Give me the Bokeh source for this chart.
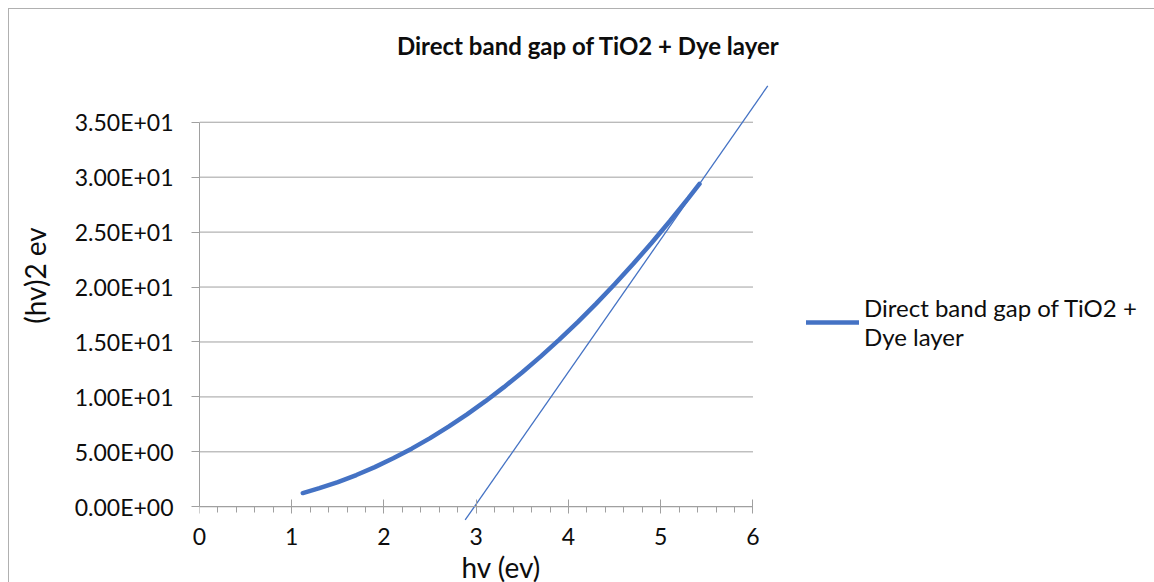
from bokeh.embed import file_html
from bokeh.models import FixedTicker, Label, Legend, LegendItem, LinearAxis, Title
from bokeh.plotting import figure
from bokeh.resources import INLINE

# (hv)^2 against photon energy hv for the TiO2 + dye layer
hv = [1.12, 1.3, 1.5, 1.7, 1.9, 2.1, 2.3, 2.5, 2.7, 2.9, 3.1, 3.3, 3.5,
      3.7, 3.9, 4.1, 4.3, 4.5, 4.7, 4.9, 5.1, 5.3, 5.42]
hv_sq = [1.25, 1.69, 2.25, 2.89, 3.61, 4.41, 5.29, 6.25, 7.29, 8.41, 9.61,
         10.89, 12.25, 13.69, 15.21, 16.81, 18.49, 20.25, 22.09, 24.01,
         26.01, 28.09, 29.38]

# straight-line extrapolation of the linear part down to the energy axis
tangent_hv = [2.88, 6.16]
tangent_sq = [-1.2, 38.3]

x_ticks = [0, 1, 2, 3, 4, 5, 6]
y_ticks = [0, 5, 10, 15, 20, 25, 30, 35]
y_tick_labels = ["0.00E+00", "5.00E+00", "1.00E+01", "1.50E+01",
                 "2.00E+01", "2.50E+01", "3.00E+01", "3.50E+01"]

chart_title = "Direct band gap of TiO2 + Dye layer"
series_name = "Direct band gap of TiO2 +\nDye layer"
x_title = "hv (ev)"
y_title = "(hv)2 ev"

FONT = "Lato"
BLUE = "#4472C4"
AXIS_GREY = "#a0a0a0"
TEXT = "#0d0d0d"
TICK_SIZE = "23px"
NAME_SIZE = "28px"

x_minor = [i / 5 for i in range(x_ticks[0] * 5, x_ticks[-1] * 5 + 1) if i % 5]

# the frame reaches past the plot box so the extrapolated line, the title
# and the legend sit inside it; the visible box is bounded by the axes
p = figure(
    width=1146, height=574,
    x_range=(0, 10.32), y_range=(-1.34, 43.44),
    output_backend="svg", toolbar_location=None,
    min_border_left=190, min_border_right=4,
    min_border_top=20, min_border_bottom=61,
    margin=(8, 0, 0, 8),
)
p.styles = {"border-top": "1px solid #b0b0b0", "border-left": "1px solid #b0b0b0"}
p.outline_line_color = None
p.background_fill_color = "white"
p.border_fill_color = "white"
p.xgrid.visible = False
p.ygrid.visible = False

# horizontal gridlines across the plotted energy span
p.segment(x0=x_ticks[0], x1=x_ticks[-1], y0=y_ticks, y1=y_ticks,
          line_color=AXIS_GREY, line_width=1, level="underlay")

# tick labels of the energy axis, below the frame
xa = p.xaxis[0]
xa.ticker = FixedTicker(ticks=x_ticks)
xa.axis_line_color = None
xa.major_tick_line_color = None
xa.minor_tick_line_color = None
xa.major_tick_in = 0
xa.major_tick_out = 0
xa.major_label_standoff = 6
xa.major_label_text_font = FONT
xa.major_label_text_font_size = TICK_SIZE
xa.major_label_text_color = TEXT

# name of the energy axis, centred under the plotted span
p.add_layout(Title(text=x_title, align="left", offset=262, standoff=0,
                   text_font=FONT, text_font_size=NAME_SIZE,
                   text_font_style="normal", text_color=TEXT), "below")

# energy-axis rule and ticks, pinned at (hv)^2 = 0
x_rule = LinearAxis(
    fixed_location=0, bounds=(x_ticks[0], x_ticks[-1]),
    ticker=FixedTicker(ticks=x_ticks, minor_ticks=x_minor),
    major_label_overrides={t: "" for t in x_ticks},
    major_label_text_font_size="0px", major_label_standoff=0,
    axis_line_color=AXIS_GREY, major_tick_line_color=AXIS_GREY,
    minor_tick_line_color=AXIS_GREY,
    major_tick_out=7, major_tick_in=7, minor_tick_out=0, minor_tick_in=6,
)
p.add_layout(x_rule, "above")

ya = p.yaxis[0]
ya.bounds = (y_ticks[0], y_ticks[-1])
ya.ticker = FixedTicker(ticks=y_ticks)
ya.major_label_overrides = dict(zip(y_ticks, y_tick_labels))
ya.axis_line_color = AXIS_GREY
ya.major_tick_line_color = AXIS_GREY
ya.minor_tick_line_color = None
ya.major_tick_in = 0
ya.major_tick_out = 8
ya.major_label_standoff = 18
ya.major_label_text_font = FONT
ya.major_label_text_font_size = TICK_SIZE
ya.major_label_text_color = TEXT

# name of the (hv)^2 axis
y_name = LinearAxis(
    ticker=FixedTicker(ticks=[]),
    axis_line_color=None, major_tick_line_color=None,
    minor_tick_line_color=None, major_tick_out=0, major_tick_in=0,
    axis_label=y_title, axis_label_standoff=20,
    axis_label_text_font=FONT, axis_label_text_font_size=NAME_SIZE,
    axis_label_text_font_style="normal", axis_label_text_color=TEXT,
)
p.add_layout(y_name, "left")

curve = p.line(hv, hv_sq, line_color=BLUE, line_width=4.5, line_cap="round")
p.line(tangent_hv, tangent_sq, line_color=BLUE, line_width=1.3)

p.add_layout(Label(x=4.216, y=42.0, text=chart_title, text_font=FONT,
                   text_font_size="24px", text_font_style="bold",
                   text_color=TEXT, text_align="center",
                   text_baseline="alphabetic"))

legend = Legend(
    items=[LegendItem(label=series_name, renderers=[curve])],
    location=(607, 170), padding=0, margin=0, spacing=0,
    border_line_color=None, background_fill_alpha=0,
    glyph_width=53, label_standoff=5,
    label_text_font=FONT, label_text_font_size="24px",
    label_text_color=TEXT,
)
p.add_layout(legend)

open("out.html", "w").write(file_html(p, INLINE))
